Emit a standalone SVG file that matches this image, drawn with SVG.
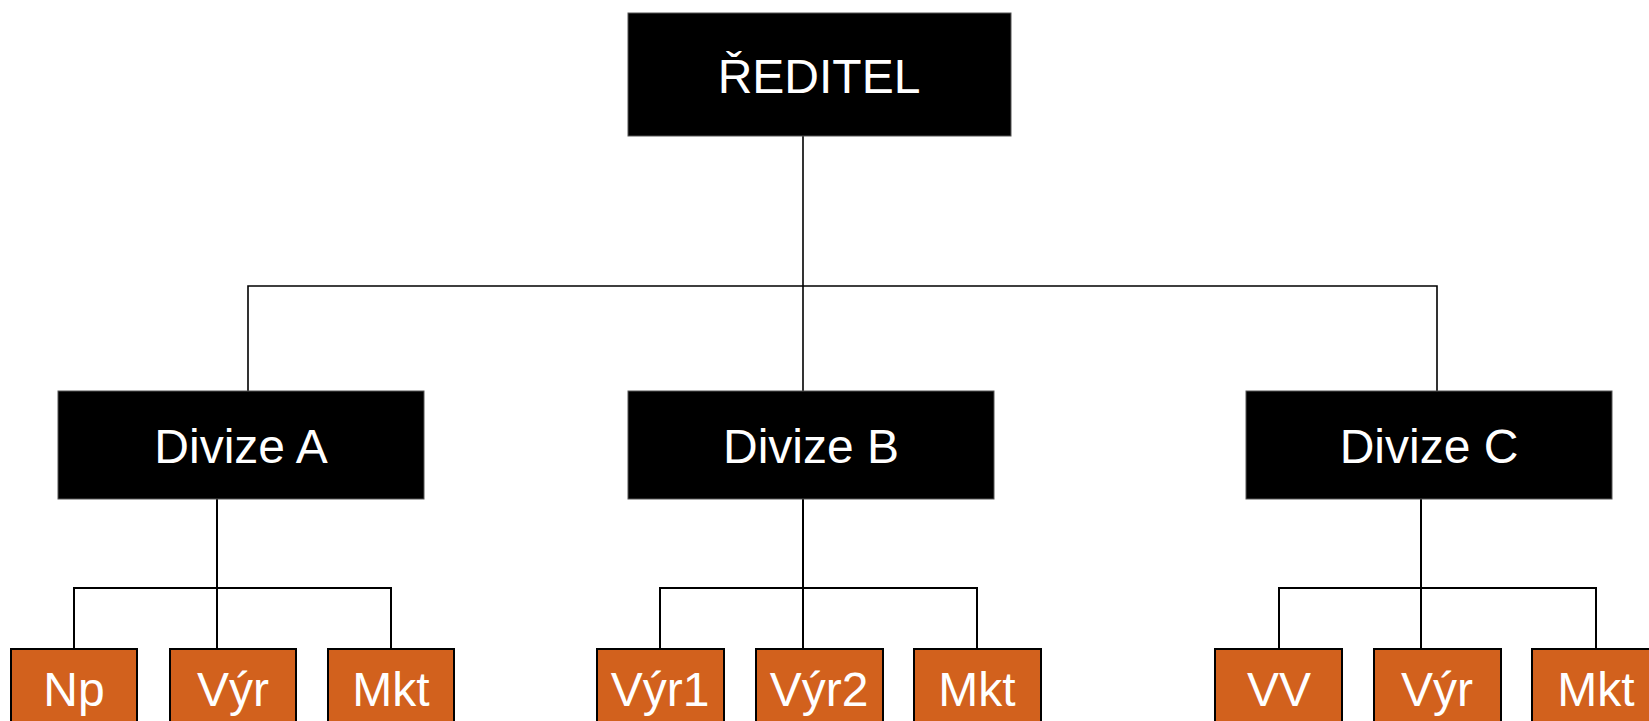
<svg xmlns="http://www.w3.org/2000/svg" width="1649" height="721" viewBox="0 0 1649 721">
  <style>
    .head { fill: #000000; stroke: #555555; stroke-width: 1; }
    .unit { fill: #D2611D; stroke: #000000; stroke-width: 2; }
    .lbl { font-family: "Liberation Sans", Arial, sans-serif; font-size: 48px; fill: #ffffff; text-anchor: middle; }
    .wire { fill: none; stroke: #000000; stroke-width: 1.6; }
    .wire2 { fill: none; stroke: #000000; stroke-width: 2; }
  </style>
  <rect width="1649" height="721" fill="#ffffff"/>

  <!-- connectors -->
  <g id="connectors">
    <!-- director to divisions -->
    <path class="wire" d="M803 136 V391"/>
    <path class="wire" d="M248 391 V286 H1437 V391"/>
    <!-- division A -->
    <path class="wire2" d="M217 499 V649"/>
    <path class="wire2" d="M74 649 V588 H391 V649"/>
    <!-- division B -->
    <path class="wire2" d="M803 499 V649"/>
    <path class="wire2" d="M660 649 V588 H977 V649"/>
    <!-- division C -->
    <path class="wire2" d="M1421 499 V649"/>
    <path class="wire2" d="M1279 649 V588 H1596 V649"/>
  </g>

  <!-- director -->
  <g id="reditel">
    <rect class="head" x="628" y="13" width="383" height="123"/>
    <text class="lbl" x="819" y="93">ŘEDITEL</text>
  </g>

  <!-- divisions -->
  <g id="divize-a">
    <rect class="head" x="58" y="391" width="366" height="108"/>
    <text class="lbl" x="241" y="463">Divize A</text>
  </g>
  <g id="divize-b">
    <rect class="head" x="628" y="391" width="366" height="108"/>
    <text class="lbl" x="811" y="463">Divize B</text>
  </g>
  <g id="divize-c">
    <rect class="head" x="1246" y="391" width="366" height="108"/>
    <text class="lbl" x="1429" y="463">Divize C</text>
  </g>

  <!-- departments of division A -->
  <g id="a-np">
    <rect class="unit" x="11" y="649" width="126" height="90"/>
    <text class="lbl" x="74" y="706">Np</text>
  </g>
  <g id="a-vyr">
    <rect class="unit" x="170" y="649" width="126" height="90"/>
    <text class="lbl" x="233" y="706">Výr</text>
  </g>
  <g id="a-mkt">
    <rect class="unit" x="328" y="649" width="126" height="90"/>
    <text class="lbl" x="391" y="706">Mkt</text>
  </g>

  <!-- departments of division B -->
  <g id="b-vyr1">
    <rect class="unit" x="597" y="649" width="127" height="90"/>
    <text class="lbl" x="660" y="706">Výr1</text>
  </g>
  <g id="b-vyr2">
    <rect class="unit" x="756" y="649" width="127" height="90"/>
    <text class="lbl" x="819" y="706">Výr2</text>
  </g>
  <g id="b-mkt">
    <rect class="unit" x="914" y="649" width="127" height="90"/>
    <text class="lbl" x="977" y="706">Mkt</text>
  </g>

  <!-- departments of division C -->
  <g id="c-vv">
    <rect class="unit" x="1215" y="649" width="127" height="90"/>
    <text class="lbl" x="1279" y="706">VV</text>
  </g>
  <g id="c-vyr">
    <rect class="unit" x="1374" y="649" width="127" height="90"/>
    <text class="lbl" x="1437" y="706">Výr</text>
  </g>
  <g id="c-mkt">
    <rect class="unit" x="1532" y="649" width="127" height="90"/>
    <text class="lbl" x="1596" y="706">Mkt</text>
  </g>
</svg>
